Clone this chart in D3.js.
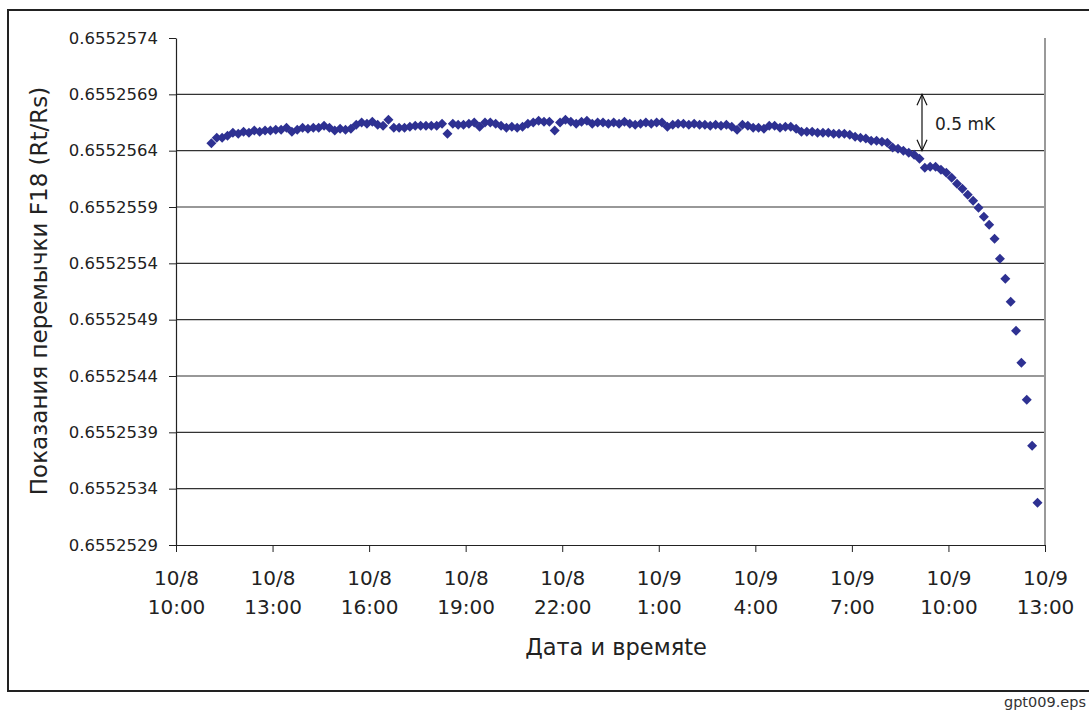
<!DOCTYPE html>
<html><head><meta charset="utf-8">
<script src="https://cdn.jsdelivr.net/npm/d3@7"></script>
<style>
html,body{margin:0;padding:0;background:#fff;}
svg{display:block;font-family:"DejaVu Sans",Verdana,sans-serif;}
</style>
</head><body>
<svg id="chart" width="1089" height="713"></svg>
<script>
// ---------------- DATA ----------------
const sampleTimes = [
"10/8 11:06","10/8 11:16","10/8 11:26","10/8 11:36","10/8 11:46","10/8 11:56",
"10/8 12:06","10/8 12:16","10/8 12:26","10/8 12:36","10/8 12:46","10/8 12:56",
"10/8 13:06","10/8 13:16","10/8 13:26","10/8 13:36","10/8 13:46","10/8 13:56",
"10/8 14:06","10/8 14:16","10/8 14:26","10/8 14:36","10/8 14:46","10/8 14:56",
"10/8 15:06","10/8 15:16","10/8 15:26","10/8 15:36","10/8 15:46","10/8 15:56",
"10/8 16:06","10/8 16:16","10/8 16:26","10/8 16:36","10/8 16:46","10/8 16:56",
"10/8 17:06","10/8 17:16","10/8 17:26","10/8 17:36","10/8 17:46","10/8 17:56",
"10/8 18:06","10/8 18:16","10/8 18:26","10/8 18:36","10/8 18:46","10/8 18:56",
"10/8 19:06","10/8 19:16","10/8 19:26","10/8 19:36","10/8 19:46","10/8 19:56",
"10/8 20:06","10/8 20:16","10/8 20:26","10/8 20:36","10/8 20:46","10/8 20:56",
"10/8 21:06","10/8 21:16","10/8 21:26","10/8 21:36","10/8 21:46","10/8 21:56",
"10/8 22:06","10/8 22:16","10/8 22:26","10/8 22:36","10/8 22:46","10/8 22:56",
"10/8 23:06","10/8 23:16","10/8 23:26","10/8 23:36","10/8 23:46","10/8 23:56",
"10/9 0:06","10/9 0:16","10/9 0:26","10/9 0:36","10/9 0:46","10/9 0:56",
"10/9 1:06","10/9 1:16","10/9 1:26","10/9 1:36","10/9 1:46","10/9 1:56",
"10/9 2:06","10/9 2:16","10/9 2:26","10/9 2:36","10/9 2:46","10/9 2:56",
"10/9 3:06","10/9 3:16","10/9 3:26","10/9 3:36","10/9 3:46","10/9 3:56",
"10/9 4:06","10/9 4:16","10/9 4:26","10/9 4:36","10/9 4:46","10/9 4:56",
"10/9 5:06","10/9 5:16","10/9 5:26","10/9 5:36","10/9 5:46","10/9 5:56",
"10/9 6:06","10/9 6:16","10/9 6:26","10/9 6:36","10/9 6:46","10/9 6:56",
"10/9 7:06","10/9 7:16","10/9 7:26","10/9 7:36","10/9 7:46","10/9 7:56",
"10/9 8:06","10/9 8:16","10/9 8:26","10/9 8:36","10/9 8:46","10/9 8:56",
"10/9 9:06","10/9 9:16","10/9 9:26","10/9 9:36","10/9 9:46","10/9 9:56",
"10/9 10:06","10/9 10:16","10/9 10:26","10/9 10:36","10/9 10:46","10/9 10:56",
"10/9 11:06","10/9 11:16","10/9 11:26","10/9 11:36","10/9 11:46","10/9 11:56",
"10/9 12:06","10/9 12:16","10/9 12:26","10/9 12:36","10/9 12:46"
];

const readings = [
0.655256465,0.655256515,0.655256515,0.655256533,0.655256560,0.655256551,
0.655256569,0.655256560,0.655256578,0.655256569,0.655256578,0.655256578,
0.655256586,0.655256586,0.655256604,0.655256569,0.655256586,0.655256604,
0.655256595,0.655256604,0.655256604,0.655256622,0.655256604,0.655256578,
0.655256595,0.655256586,0.655256595,0.655256631,0.655256649,0.655256640,
0.655256657,0.655256631,0.655256622,0.655256675,0.655256604,0.655256604,
0.655256604,0.655256613,0.655256622,0.655256622,0.655256622,0.655256622,
0.655256622,0.655256640,0.655256551,0.655256640,0.655256631,0.655256631,
0.655256640,0.655256649,0.655256613,0.655256649,0.655256649,0.655256640,
0.655256622,0.655256604,0.655256613,0.655256604,0.655256613,0.655256640,
0.655256649,0.655256666,0.655256657,0.655256657,0.655256578,0.655256649,
0.655256675,0.655256657,0.655256640,0.655256657,0.655256666,0.655256640,
0.655256649,0.655256649,0.655256640,0.655256649,0.655256640,0.655256657,
0.655256640,0.655256631,0.655256640,0.655256649,0.655256640,0.655256649,
0.655256649,0.655256613,0.655256631,0.655256640,0.655256640,0.655256631,
0.655256640,0.655256631,0.655256631,0.655256622,0.655256631,0.655256622,
0.655256631,0.655256613,0.655256586,0.655256631,0.655256622,0.655256604,
0.655256604,0.655256595,0.655256622,0.655256622,0.655256604,0.655256613,
0.655256613,0.655256595,0.655256569,0.655256569,0.655256569,0.655256560,
0.655256560,0.655256560,0.655256551,0.655256551,0.655256551,0.655256542,
0.655256524,0.655256515,0.655256507,0.655256489,0.655256489,0.655256480,
0.655256471,0.655256427,0.655256418,0.655256400,0.655256382,0.655256364,
0.655256329,0.655256249,0.655256258,0.655256258,0.655256231,0.655256205,
0.655256160,0.655256107,0.655256063,0.655256009,0.655255956,0.655255894,
0.655255814,0.655255743,0.655255619,0.655255441,0.655255264,0.655255060,
0.655254802,0.655254518,0.655254190,0.655253782,0.655253276
];

const xTickDates = ["10/8","10/8","10/8","10/8","10/8","10/9","10/9","10/9","10/9","10/9"];
const xTickHours = ["10:00","13:00","16:00","19:00","22:00","1:00","4:00","7:00","10:00","13:00"];
const yTickLabels = ["0.6552529","0.6552534","0.6552539","0.6552544","0.6552549",
                     "0.6552554","0.6552559","0.6552564","0.6552569","0.6552574"];
const yAxisTitle = "Показания перемычки F18 (Rt/Rs)";
const xAxisTitle = "Дата и времяte";
const annotationText = "0.5 mK";
const annotationRange = ["0.6552564","0.6552569"];
const fileTag = "gpt009.eps";

// ---------------- DRAW ----------------
const svg = d3.select("#chart");
const parse = d3.timeParse("%m/%d %H:%M");
const L = 176, R = 1045, T = 38, B = 545;

const xTickValues = xTickDates.map((d, i) => parse(d + " " + xTickHours[i]));
const yTickValues = yTickLabels.map(Number);

const x = d3.scaleTime().domain([xTickValues[0], xTickValues[xTickValues.length - 1]]).range([L, R]);
const y = d3.scaleLinear().domain([yTickValues[0], yTickValues[yTickValues.length - 1]]).range([B, T]);

const ink = "#222";

// outer frame (right edge runs off the picture)
svg.append("rect").attr("x", 8).attr("y", 10).attr("width", 1200).attr("height", 681)
  .attr("fill", "none").attr("stroke", ink).attr("stroke-width", 2);

// horizontal gridlines
svg.append("g").selectAll("line").data(yTickValues.slice(1, -1)).join("line")
  .attr("x1", L).attr("x2", R).attr("y1", d => y(d)).attr("y2", d => y(d))
  .attr("stroke", "#333").attr("stroke-width", 1.1);

// right plot border
svg.append("line").attr("x1", R).attr("x2", R).attr("y1", T).attr("y2", B)
  .attr("stroke", "#999").attr("stroke-width", 2);

// y axis
const yAxis = d3.axisLeft(y).tickValues(yTickValues)
  .tickFormat((d, i) => yTickLabels[i]).tickSize(7).tickSizeOuter(0).tickPadding(11);
const gy = svg.append("g").attr("transform", `translate(${L},0)`).call(yAxis);
gy.select(".domain").attr("stroke", ink).attr("stroke-width", 1.2);
gy.selectAll(".tick line").attr("stroke", ink);
gy.selectAll(".tick text").attr("fill", ink).attr("font-size", 16.5)
  .attr("font-family", "DejaVu Sans, Verdana, sans-serif");

// x axis
const xAxis = d3.axisBottom(x).tickValues(xTickValues).tickFormat("").tickSize(7).tickSizeOuter(0);
const gx = svg.append("g").attr("transform", `translate(0,${B})`).call(xAxis);
gx.select(".domain").attr("stroke", ink).attr("stroke-width", 1.2);
gx.selectAll(".tick line").attr("stroke", ink);
gx.selectAll(".tick").each(function(d, i) {
  const t = d3.select(this).append("text").attr("fill", ink).attr("font-size", 20)
    .attr("text-anchor", "middle").attr("font-family", "DejaVu Sans, Verdana, sans-serif");
  t.append("tspan").attr("x", 0).attr("y", 40).text(xTickDates[i]);
  t.append("tspan").attr("x", 0).attr("y", 69).text(xTickHours[i]);
});

// data markers (square rotated 45° = Excel diamond)
const diamond = d3.symbol().type(d3.symbolSquare).size(50)();
const pts = sampleTimes.map((t, i) => ({ t: parse(t), v: readings[i] }));
svg.append("g").selectAll("path").data(pts).join("path")
  .attr("d", diamond)
  .attr("transform", d => `translate(${x(d.t)},${y(d.v)}) rotate(45)`)
  .attr("fill", "#2e3192");

// annotation: double arrow 0.5 mK
const ax = 922;
const ya = y(+annotationRange[1]), yb = y(+annotationRange[0]);
const ann = svg.append("g").attr("stroke", "#111").attr("stroke-width", 1.2).attr("fill", "none");
ann.append("line").attr("x1", ax).attr("x2", ax).attr("y1", ya).attr("y2", yb);
ann.append("path").attr("d", `M${ax - 5},${ya + 11} L${ax},${ya} L${ax + 5},${ya + 11}`);
ann.append("path").attr("d", `M${ax - 5},${yb - 11} L${ax},${yb} L${ax + 5},${yb - 11}`);
svg.append("text").attr("x", 935).attr("y", 130).attr("font-size", 17).attr("fill", ink)
  .text(annotationText);

// axis titles
svg.append("text").attr("transform", "translate(47,291) rotate(-90)")
  .attr("text-anchor", "middle").attr("font-size", 23).attr("fill", ink).text(yAxisTitle);
svg.append("text").attr("x", 616).attr("y", 655)
  .attr("text-anchor", "middle").attr("font-size", 22.5).attr("fill", ink).text(xAxisTitle);

// file tag
svg.append("text").attr("x", 1086).attr("y", 707).attr("text-anchor", "end")
  .attr("font-size", 14.5).attr("fill", "#333").text(fileTag);
</script>
</body></html>
